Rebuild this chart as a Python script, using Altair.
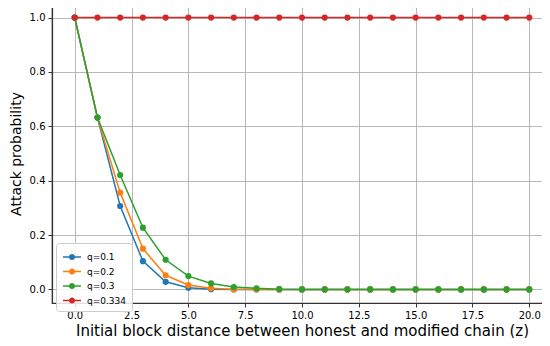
import altair as alt
import pandas as pd

z = list(range(21))
labels = ["q=0.1", "q=0.2", "q=0.3", "q=0.334"]
p01 = [1.0, 0.632, 0.307, 0.104, 0.028, 0.006, 0.001, 0.0, 0.0, 0.0, 0.0, 0.0, 0.0, 0.0, 0.0, 0.0, 0.0, 0.0, 0.0, 0.0, 0.0]
p02 = [1.0, 0.632, 0.356, 0.150, 0.052, 0.016, 0.004, 0.001, 0.0, 0.0, 0.0, 0.0, 0.0, 0.0, 0.0, 0.0, 0.0, 0.0, 0.0, 0.0, 0.0]
p03 = [1.0, 0.632, 0.421, 0.227, 0.109, 0.049, 0.022, 0.009, 0.004, 0.001, 0.0, 0.0, 0.0, 0.0, 0.0, 0.0, 0.0, 0.0, 0.0, 0.0, 0.0]
p0334 = [1.0] * 21
colors = ["#1f77b4", "#ff7f0e", "#2ca02c", "#d62728"]

rows = []
for i, (lab, vals) in enumerate(zip(labels, [p01, p02, p03, p0334])):
    for zz, v in zip(z, vals):
        rows.append({"z": zz, "p": v, "q": lab, "order": i})
df = pd.DataFrame(rows)

font = "DejaVu Sans"
xscale = alt.Scale(domain=[-1, 21], nice=False, zero=False)
yscale = alt.Scale(domain=[-0.05, 1.05], nice=False, zero=False)
cscale = alt.Scale(domain=labels, range=colors)

xaxis = alt.Axis(values=[0, 2.5, 5, 7.5, 10, 12.5, 15, 17.5, 20], format=".1f",
                 title="Initial block distance between honest and modified chain (z)",
                 titleFontSize=15, titleFontWeight="normal", titleFont=font, titleColor="#000",
                 labelFont=font, labelFontSize=10, labelColor="#000", labelPadding=3,
                 tickSize=4, tickColor="#333", domainColor="#333", domainWidth=1.2,
                 grid=True, gridColor="#b0b0b0", gridWidth=0.9, titlePadding=3,
                 labelFlush=False)
yaxis = alt.Axis(values=[0, 0.2, 0.4, 0.6, 0.8, 1.0], format=".1f",
                 title="Attack probability",
                 titleFontSize=14, titleFontWeight="normal", titleFont=font, titleColor="#000",
                 labelFont=font, labelFontSize=10, labelColor="#000", labelPadding=3,
                 tickSize=4, tickColor="#333", domainColor="#333", domainWidth=1.2,
                 grid=True, gridColor="#b0b0b0", gridWidth=0.9, titlePadding=6,
                 labelFlush=False)

legend_path = ("M-1,-0.085 L1,-0.085 L1,0.085 L-1,0.085 Z "
               "M0.34,0 A0.34,0.34 0 1,1 -0.34,0 A0.34,0.34 0 1,1 0.34,0 Z")
legend = alt.Legend(
    title=None, orient="none", legendX=4, legendY=239,
    symbolType=legend_path, symbolSize=324, symbolStrokeWidth=0,
    symbolOpacity=1, labelFont=font, labelFontSize=9, labelColor="#000",
    strokeColor="#cccccc", fillColor="rgba(255,255,255,0.85)",
    padding=5, rowPadding=0.5, cornerRadius=3, labelOffset=6,
    symbolOffset=2)

base = alt.Chart(df)
lines = base.mark_line(strokeWidth=1.5, clip=False).encode(
    x=alt.X("z:Q", scale=xscale, axis=xaxis),
    y=alt.Y("p:Q", scale=yscale, axis=yaxis),
    color=alt.Color("q:N", scale=cscale, legend=legend),
    detail="q:N",
    order="order:Q",
)
points = base.mark_point(filled=True, size=38, opacity=1, clip=False).encode(
    x=alt.X("z:Q", scale=xscale, axis=xaxis),
    y=alt.Y("p:Q", scale=yscale, axis=yaxis),
    color=alt.Color("q:N", scale=cscale, legend=legend),
    order="order:Q",
)

chart = alt.layer(lines, points).properties(
    width=500, height=299,
    autosize=alt.AutoSizeParams(type="none"),
    padding={"left": 44, "top": -4, "right": -10, "bottom": 35},
    background="white",
).configure_view(stroke="#333", strokeWidth=1.2)

chart.save("out.html", embed_options={"renderer": "svg", "actions": False})
